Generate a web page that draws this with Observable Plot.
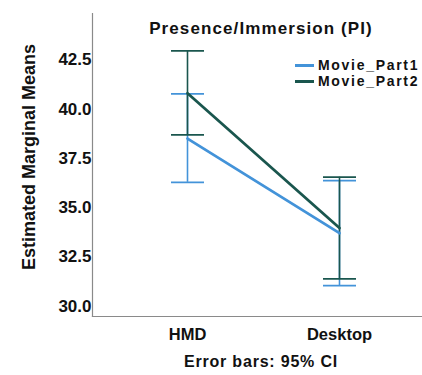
<!DOCTYPE html>
<html>
<head>
<meta charset="utf-8">
<script src="https://cdn.jsdelivr.net/npm/d3@7"></script>
<script src="https://cdn.jsdelivr.net/npm/@observablehq/plot@0.6"></script>
<style>
  body { margin: 0; background: #fff; }
  #wrap { position: relative; width: 422px; height: 375px; font-family: "Liberation Sans", Arial, sans-serif; font-weight: bold; color: #111; }
  .abs { position: absolute; white-space: nowrap; }
  #title { left: 0; width: 522px; top: 19px; text-align: center; font-size: 17px; letter-spacing: 1.1px; }
  #caption { left: 0; width: 522px; top: 353px; text-align: center; font-size: 16px; letter-spacing: 0.8px; }
  .leg { left: 295px; font-size: 14px; line-height: 16px; height: 16px; letter-spacing: 1.7px; display: flex; align-items: center; }
  .leg span.sw { display: inline-block; width: 19px; height: 3px; margin-right: 4px; }
</style>
</head>
<body>
<div id="wrap">
  <div id="chart"></div>
  <div id="title" class="abs">Presence/Immersion (PI)</div>
  <div id="legend"></div>
  <div id="caption" class="abs">Error bars: 95% CI</div>
</div>
<script>
const categories = ["HMD", "Desktop"];
const seriesNames = ["Movie_Part1", "Movie_Part2"];
const colors = ["#4393d9", "#1a564e"];
const part1Mean = [38.5, 33.7];
const part1Lo = [36.28, 31.04];
const part1Hi = [40.77, 36.37];
const part2Mean = [40.8, 33.96];
const part2Lo = [38.69, 31.38];
const part2Hi = [42.95, 36.54];
const yTicks = [30, 32.5, 35, 37.5, 40, 42.5];

const rows = [];
categories.forEach((c, i) => {
  rows.push({cat: c, series: seriesNames[0], mean: part1Mean[i], lo: part1Lo[i], hi: part1Hi[i]});
});
categories.forEach((c, i) => {
  rows.push({cat: c, series: seriesNames[1], mean: part2Mean[i], lo: part2Lo[i], hi: part2Hi[i]});
});

const capSymbol = {
  draw(ctx) { ctx.moveTo(-16.5, 0); ctx.lineTo(16.5, 0); }
};

const chart = Plot.plot({
  width: 422,
  height: 375,
  marginLeft: 92,
  marginRight: 0,
  marginTop: 13,
  marginBottom: 59,
  style: {fontFamily: "Liberation Sans, Arial, sans-serif", fontWeight: "bold", color: "#111", background: "#fff"},
  x: {type: "point", domain: categories, range: [187, 339], padding: 0, label: null},
  y: {domain: [29.47, 44.85], label: null},
  color: {domain: seriesNames, range: colors},
  marks: [
    Plot.frame({anchor: "left", stroke: "#8a8a8a", strokeWidth: 1.2}),
    Plot.frame({anchor: "bottom", stroke: "#8a8a8a", strokeWidth: 1.2}),
    Plot.axisY({ticks: yTicks, tickFormat: d3.format(".1f"), tickSize: 0, tickPadding: 1, fontSize: 17, style: {letterSpacing: "2.4px"}, label: null}),
    Plot.axisX({tickSize: 0, tickPadding: 12, fontSize: 16.5, style: {letterSpacing: "0.9px"}, label: null}),
    Plot.text(["Estimated Marginal Means"], {frameAnchor: "left", textAnchor: "middle", dx: -63, dy: -8, rotate: -90, fontSize: 18, fontWeight: "bold", style: {letterSpacing: "1px"}}),
    ...seriesNames.map((s, k) => [
      Plot.ruleX(rows.filter(d => d.series === s), {x: "cat", y1: "lo", y2: "hi", stroke: colors[k], strokeWidth: 1.6}),
      Plot.dot(rows.filter(d => d.series === s), {x: "cat", y: "lo", symbol: capSymbol, stroke: colors[k], strokeWidth: 1.8, r: 5}),
      Plot.dot(rows.filter(d => d.series === s), {x: "cat", y: "hi", symbol: capSymbol, stroke: colors[k], strokeWidth: 1.8, r: 5})
    ]).flat(),
    Plot.line(rows, {x: "cat", y: "mean", z: "series", stroke: "series", strokeWidth: 2.8})
  ]
});
document.getElementById("chart").appendChild(chart);

const leg = document.getElementById("legend");
seriesNames.forEach((s, k) => {
  const el = document.createElement("div");
  el.className = "abs leg";
  el.style.top = (57 + k * 16) + "px";
  el.innerHTML = `<span class="sw" style="background:${colors[k]}"></span>${s}`;
  leg.appendChild(el);
});
</script>
</body>
</html>
